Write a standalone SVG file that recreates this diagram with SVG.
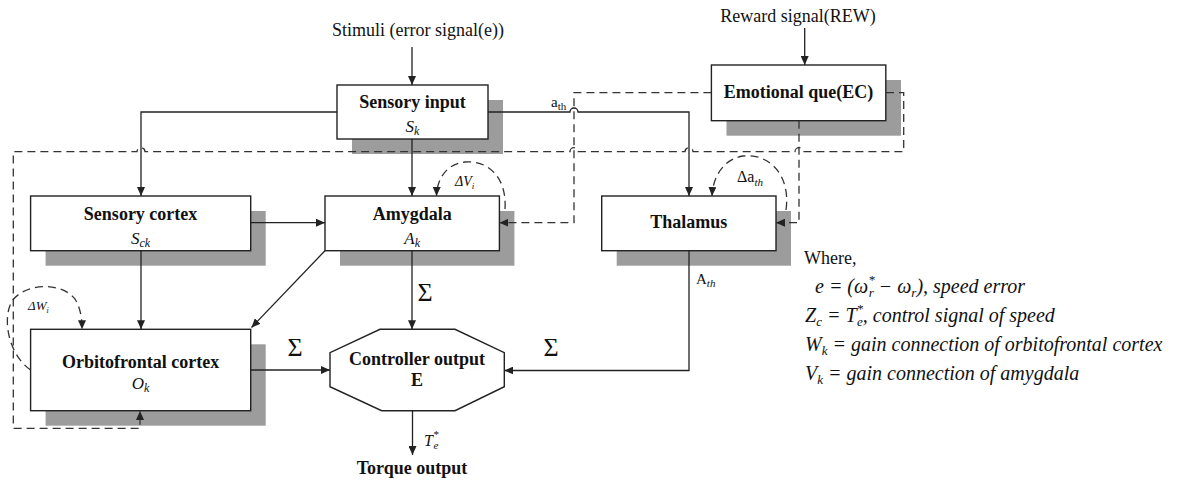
<svg xmlns="http://www.w3.org/2000/svg" width="1177" height="480" viewBox="0 0 1177 480">
<defs>
<marker id="ah" markerUnits="userSpaceOnUse" markerWidth="10" markerHeight="8" refX="9" refY="4" orient="auto">
<path d="M0,0 L9,4 L0,8 z" fill="#222"/>
</marker>
<style>
text{font-family:"Liberation Serif","Times New Roman",serif;fill:#111}
.t{font-size:18px;font-weight:bold;text-anchor:middle}
.s{font-size:17px;font-style:italic;text-anchor:middle}
.r{font-size:18px}
.lg{font-size:20px;font-style:italic}
.box{fill:#fff;stroke:#222;stroke-width:1.4}
.sh{fill:#9c9c9c}
.c{fill:none;stroke:#222;stroke-width:1.3}
.d{fill:none;stroke:#333;stroke-width:1.3;stroke-dasharray:8 5}
.sg{font-size:26px;text-anchor:middle}
</style>
</defs>

<text class="r" x="418" y="36" text-anchor="middle">Stimuli (error signal(e))</text>
<text class="r" x="798" y="22" text-anchor="middle">Reward signal(REW)</text>

<g id="sensory-input">
<rect class="sh" x="352" y="100" width="151" height="54"/>
<rect class="box" x="337" y="85" width="151" height="54"/>
<text class="t" x="412.5" y="108">Sensory input</text>
<text class="s" x="412.5" y="132">S<tspan font-size="12" dy="3">k</tspan></text>
</g>

<g id="emotional-que">
<rect class="sh" x="726.5" y="80" width="174.5" height="55.7"/>
<rect class="box" x="711.4" y="65" width="174.4" height="55.7"/>
<text class="t" x="798.6" y="98">Emotional que(EC)</text>
</g>

<g id="sensory-cortex">
<rect class="sh" x="45.6" y="211" width="220.1" height="54.7"/>
<rect class="box" x="30.6" y="196" width="220.1" height="54.7"/>
<text class="t" x="140.6" y="219.5">Sensory cortex</text>
<text class="s" x="140.6" y="243.5">S<tspan font-size="12" dy="3">ck</tspan></text>
</g>

<g id="amygdala">
<rect class="sh" x="340" y="211" width="174.4" height="54.7"/>
<rect class="box" x="325" y="196" width="174.4" height="54.7"/>
<text class="t" x="412.2" y="219.5">Amygdala</text>
<text class="s" x="412.2" y="243.5">A<tspan font-size="12" dy="3">k</tspan></text>
</g>

<g id="thalamus">
<rect class="sh" x="616.7" y="211" width="174.3" height="54.7"/>
<rect class="box" x="601.7" y="196" width="174.3" height="54.7"/>
<text class="t" x="688.8" y="227.5">Thalamus</text>
</g>

<g id="orbitofrontal-cortex">
<rect class="sh" x="45.6" y="344.3" width="220.1" height="81.4"/>
<rect class="box" x="30.6" y="329.3" width="220.1" height="81.4"/>
<text class="t" x="140.6" y="367.5">Orbitofrontal cortex</text>
<text class="s" x="140.6" y="388.5">O<tspan font-size="12" dy="3">k</tspan></text>
</g>

<g id="controller-output">
<polygon class="box" points="380,329.3 455,329.3 504.3,352.7 504.3,386.7 455,410.7 381.7,410.7 330,386.7 330,352.7"/>
<text class="t" x="417" y="365">Controller output</text>
<text class="t" x="417" y="386">E</text>
</g>

<text class="t" x="412" y="474">Torque output</text>

<g id="connectors">
<path class="c" d="M412,47 V85" marker-end="url(#ah)"/>
<path class="c" d="M804.7,28 V65" marker-end="url(#ah)"/>
<path class="c" d="M337,112 H141 V196" marker-end="url(#ah)"/>
<path class="c" d="M488,112 H570 A4,4 0 0 1 578,112 H689 V196" marker-end="url(#ah)"/>
<path class="c" d="M412,139 V196" marker-end="url(#ah)"/>
<path class="c" d="M250.7,222.7 H325" marker-end="url(#ah)"/>
<path class="c" d="M141,250.7 V329.3" marker-end="url(#ah)"/>
<path class="c" d="M325,250.7 L251.5,327.5" marker-end="url(#ah)"/>
<path class="c" d="M412,250.7 V329.3" marker-end="url(#ah)"/>
<path class="c" d="M250.7,370 H330" marker-end="url(#ah)"/>
<path class="c" d="M689,250.7 V370.5 H504.3" marker-end="url(#ah)"/>
<path class="c" d="M412.5,410.7 V455" marker-end="url(#ah)"/>

<path class="d" d="M886,92.7 H903.7 V151.7 H803 A4,4 0 0 0 795,151.7 H693 A4,4 0 0 0 685,151.7 H578 A4,4 0 0 0 570,151.7 H145 A4,4 0 0 0 137,151.7 H13.3 V428.3 H140 V411" marker-end="url(#ah)"/>
<path class="d" d="M711.4,92.7 H574 V222.7 H499.4" marker-end="url(#ah)"/>
<path class="d" d="M799,120.7 V222.7 H776" marker-end="url(#ah)"/>
<path class="d" d="M505,209 C507,176 487,160 465,162 C447,164 437,178 436.5,196" marker-end="url(#ah)"/>
<path class="d" d="M786,210 C791,174 768,153 743,156 C724,159 713,176 712,196" marker-end="url(#ah)"/>
<path class="d" d="M30.6,370 C10,356 2,322 11,303 C21,284 60,280 75,299 C80,307 82,317 82,329.3" marker-end="url(#ah)"/>
</g>

<text x="551" y="107" font-size="15">a<tspan font-size="11" dy="3">th</tspan></text>
<text x="696" y="284" font-size="15">A<tspan font-size="11" dy="3" font-style="italic">th</tspan></text>
<text x="737" y="182" font-size="16">Δa<tspan font-size="11" dy="4" font-style="italic">th</tspan></text>
<text x="455" y="186" font-size="14" font-style="italic">ΔV<tspan font-size="9" dy="3">i</tspan></text>
<text x="28" y="310" font-size="13" font-style="italic">ΔW<tspan font-size="8" dy="3">i</tspan></text>
<text x="424" y="446" font-size="16" font-style="italic">T<tspan font-size="11" dy="-8">*</tspan><tspan font-size="11" dx="-5" dy="11">e</tspan></text>

<text class="sg" x="425" y="301">Σ</text>
<text class="sg" x="295" y="356">Σ</text>
<text class="sg" x="551" y="356">Σ</text>

<g id="legend">
<text class="r" x="804" y="264">Where,</text>
<text class="lg" x="815" y="293">e = (ω<tspan font-size="13" dy="-9">*</tspan><tspan font-size="13" dx="-6" dy="13">r</tspan><tspan dy="-4"> − ω</tspan><tspan font-size="13" dy="4">r</tspan><tspan dy="-4">), speed error</tspan></text>
<text class="lg" x="805" y="322">Z<tspan font-size="13" dy="4">c</tspan><tspan dy="-4"> = T</tspan><tspan font-size="13" dy="-9">*</tspan><tspan font-size="13" dx="-6" dy="13">e</tspan><tspan dy="-4">, control signal of speed</tspan></text>
<text class="lg" x="805" y="351">W<tspan font-size="13" dy="4">k</tspan><tspan dy="-4"> = gain connection of orbitofrontal cortex</tspan></text>
<text class="lg" x="805" y="380">V<tspan font-size="13" dy="4">k</tspan><tspan dy="-4"> = gain connection of amygdala</tspan></text>
</g>
</svg>
